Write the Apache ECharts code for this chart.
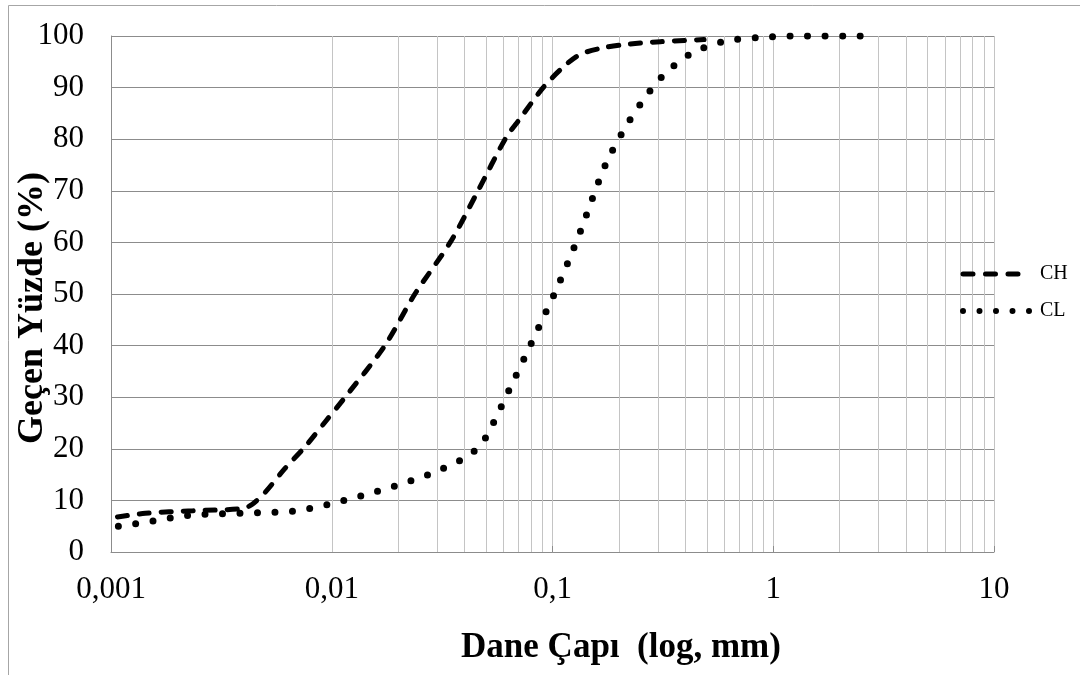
<!DOCTYPE html>
<html>
<head>
<meta charset="utf-8">
<script src="https://cdn.jsdelivr.net/npm/echarts@6/dist/echarts.min.js"></script>
<style>
html,body{margin:0;padding:0;background:#fff;}
#chart{width:1080px;height:675px;}
</style>
</head>
<body>
<div id="chart"></div>
<script>
// ---- data ----
const seriesNames = ['CH', 'CL'];
const chDiameter = [0.00107, 0.00143, 0.00235, 0.00392, 0.00435, 0.0050, 0.00614, 0.00757, 0.00933, 0.0115, 0.0174, 0.0238, 0.0344, 0.046, 0.061, 0.0713, 0.0907, 0.112, 0.133, 0.169, 0.218, 0.308, 0.486];
const chPercent  = [6.8, 7.5, 8.0, 8.4, 9.2, 11.6, 16.2, 20.4, 25.2, 30, 40, 50, 60, 70, 80, 84, 90, 94, 96.4, 97.7, 98.4, 98.9, 99.3];
const clDiameter = [0.00108, 0.00155, 0.00223, 0.00319, 0.00462, 0.00666, 0.00959, 0.01367, 0.01935, 0.0274, 0.03842, 0.0446, 0.05002, 0.05437, 0.05894, 0.06378, 0.0746, 0.08722, 0.1017, 0.1177, 0.1348, 0.1528, 0.1744, 0.2066, 0.2513, 0.3161, 0.4202, 0.591, 0.8516, 1.324, 2.55];
const clPercent  = [5.0, 6.0, 7.1, 7.4, 7.6, 7.9, 9.2, 10.9, 12.8, 15.0, 17.8, 19.7, 22.3, 25.3, 28.4, 31.5, 37.6, 43.8, 49.9, 56.2, 62.5, 68.9, 75.2, 81.2, 86.9, 92.3, 96.5, 98.9, 99.7, 100, 100];
const xTickLabels = ['0,001', '0,01', '0,1', '1', '10'];
const yTickValues = [0, 10, 20, 30, 40, 50, 60, 70, 80, 90, 100];
const minorGridX = [];
[0.001, 0.01, 0.1, 1].forEach(function (dec) {
  [2, 3, 4, 5, 6, 7, 8, 9].forEach(function (m) { minorGridX.push(+(dec * m).toPrecision(3)); });
});
const xTitle = 'Dane Çapı  (log, mm)';
const yTitle = 'Geçen Yüzde (%)';

const serif = '"Liberation Serif", "Times New Roman", serif';
const chart = echarts.init(document.getElementById('chart'), null, {renderer: 'canvas'});

function pairs(xs, ys) { return xs.map(function (x, i) { return [x, ys[i]]; }); }

const chLine = {color: '#000', width: 5, type: [10, 12], cap: 'round'};
const clLine = {color: '#000', width: 7, type: [0, 17.5], cap: 'round'};

const option = {
  animation: false,
  backgroundColor: '#ffffff',
  grid: {left: 111, top: 36, right: 86, bottom: 123, containLabel: false},
  xAxis: {
    type: 'log', logBase: 10, min: 0.001, max: 10,
    axisLine: {show: true, lineStyle: {color: '#8c8c8c', width: 1}},
    axisTick: {show: true, inside: true, length: 6, lineStyle: {color: '#8c8c8c'}},
    axisLabel: {
      margin: 22, fontSize: 31, fontFamily: serif, color: '#000',
      formatter: function (v) { return xTickLabels[Math.round(Math.log10(v)) + 3]; }
    },
    splitLine: {show: true, lineStyle: {color: '#c4c4c4', width: 1}},
    minorTick: {show: false},
    minorSplitLine: {show: false}
  },
  yAxis: {
    type: 'value', min: yTickValues[0], max: yTickValues[yTickValues.length - 1], interval: 10,
    axisLine: {show: true, lineStyle: {color: '#8c8c8c', width: 1}},
    axisTick: {show: false},
    axisLabel: {margin: 27, fontSize: 31, fontFamily: serif, color: '#000'},
    splitLine: {show: true, lineStyle: {color: '#8c8c8c', width: 1}}
  },
  legend: {
    data: [
      {name: seriesNames[0], lineStyle: {color: '#000', width: 5, type: [10, 12.5], cap: 'round'}},
      {name: seriesNames[1], lineStyle: {color: '#000', width: 6, type: [0, 16.5], cap: 'round'}}
    ],
    orient: 'vertical',
    left: 960, top: 264, padding: 0,
    itemWidth: 67, itemHeight: 14, itemGap: 17,
    itemStyle: {color: 'rgba(0,0,0,0)', borderWidth: 0, opacity: 0},
    textStyle: {fontSize: 20, fontFamily: serif, color: '#000', padding: [0, 0, 0, 5]},
    selectedMode: false
  },
  graphic: [
    {type: 'rect', shape: {x: 8.5, y: 5.5, width: 1100, height: 700}, style: {fill: 'none', stroke: '#a6a6a6', lineWidth: 1}, silent: true},
    {type: 'text', position: [621, 648], style: {text: xTitle, font: 'bold 35px ' + serif, fill: '#000', textAlign: 'center', textVerticalAlign: 'middle'}, silent: true},
    {type: 'text', rotation: Math.PI / 2, position: [33, 308], style: {text: yTitle, font: 'bold 36px ' + serif, fill: '#000', textAlign: 'center', textVerticalAlign: 'middle'}, silent: true}
  ],
  series: [
    {
      name: 'gridMinor', type: 'line', data: [], silent: true,
      markLine: {
        silent: true, symbol: ['none', 'none'], z: 1, animation: false,
        label: {show: false},
        lineStyle: {color: '#c4c4c4', width: 1, type: 'solid'},
        data: minorGridX.map(function (v) { return {xAxis: v}; })
      }
    },
    {
      name: seriesNames[0], type: 'line', symbol: 'none', showSymbol: false, smooth: 0.3, z: 3,
      data: pairs(chDiameter, chPercent),
      lineStyle: chLine,
      itemStyle: {color: '#000'}
    },
    {
      name: seriesNames[1], type: 'line', symbol: 'none', showSymbol: false, smooth: 0.3, z: 3,
      data: pairs(clDiameter, clPercent),
      lineStyle: clLine,
      itemStyle: {color: '#000'}
    }
  ]
};
chart.setOption(option);
</script>
</body>
</html>
